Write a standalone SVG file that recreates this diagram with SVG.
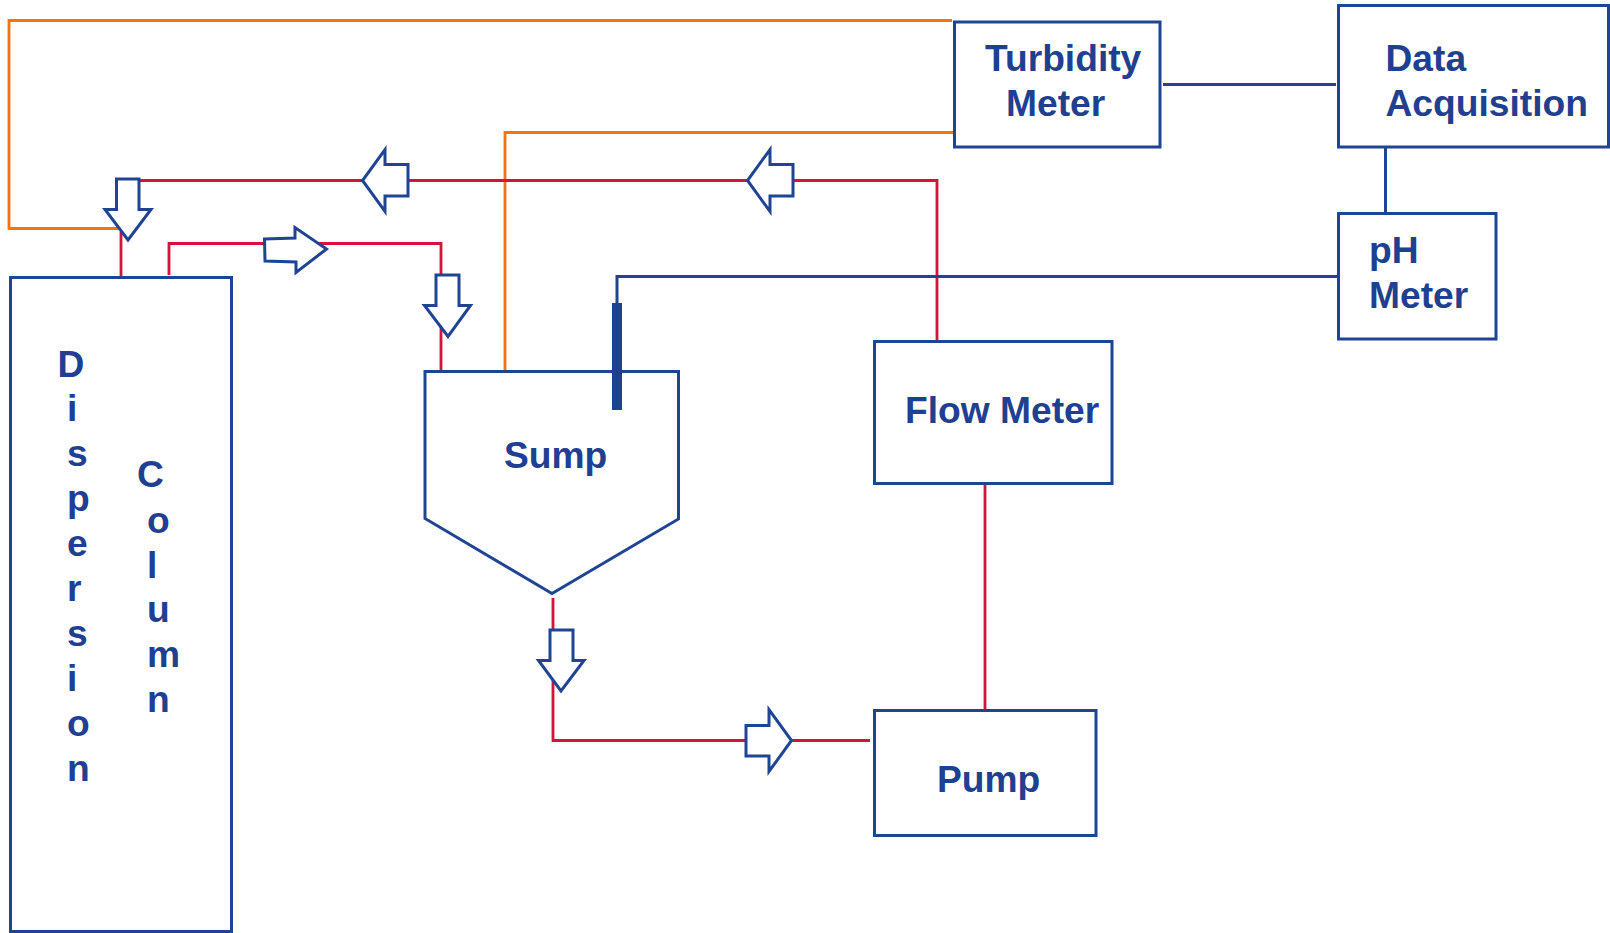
<svg xmlns="http://www.w3.org/2000/svg" width="1610" height="933" viewBox="0 0 1610 933">
<style>
.n{fill:#fff;stroke:#1f4494;stroke-width:3}
.t{font-family:"Liberation Sans",Arial,sans-serif;font-weight:700;font-size:37.200px;fill:#1f4090}
.c{fill:none;stroke-width:2.800;stroke-linejoin:miter}
.r{stroke:#d9103a}
.o{stroke:#f5740f}
.b{stroke:#1f4494;stroke-width:3}
.a{fill:#fff;stroke:#1f4494;stroke-width:3}
</style>
<rect width="1610" height="933" fill="#fff"/>
<g id="connectors">
<path class="c o" d="M952 20.500H9V228.500H118"/>
<path class="c o" d="M954 132.500H505V373"/>
<path class="c r" d="M139 180.500H937V341"/>
<path class="c r" d="M121 232V277"/>
<path class="c r" d="M169 275V243.500H441V370"/>
<path class="c r" d="M553 598V740.500H870"/>
<path class="c r" d="M985 483V710"/>
<path class="c b" d="M1163 84.500H1336"/>
<path class="c b" d="M1385.500 147V213"/>
<path class="c b" d="M1338 276.500H617V303"/>
</g>
<g id="arrows">
<polygon class="a" points="116.500,179 139,179 139,209.500 151,209.500 128,240 105,209.500 116.500,209.500"/>
<polygon class="a" points="408,164.500 385,164.500 385,149.500 362.500,180.500 385,211.500 385,196 408,196"/>
<polygon class="a" points="793,164.500 770,164.500 770,149.500 747.500,180.500 770,211.500 770,196 793,196"/>
<polygon class="a" points="264.500,239 295,238 295,227.500 326.500,249 296,272.500 296,262 265,261"/>
<polygon class="a" points="436,275 459,275 459,305.500 470.500,305.500 448,336.500 424.500,305.500 436,305.500"/>
<polygon class="a" points="550,630 573,630 573,660.500 584,660.500 561,691 538.500,660.500 550,660.500"/>
<polygon class="a" points="746,725.500 769,725.500 769,709.500 791.500,740.500 769,771.500 769,756 746,756"/>
</g>
<g id="dispersion-column">
<rect class="n" x="10.500" y="277.500" width="221" height="654"/>
<text class="t" x="57.500" y="377">D</text>
<text class="t"><tspan x="67" y="421">i</tspan><tspan x="67" y="466">s</tspan><tspan x="67" y="511">p</tspan><tspan x="67" y="556">e</tspan><tspan x="67" y="601">r</tspan><tspan x="67" y="646">s</tspan><tspan x="67" y="691">i</tspan><tspan x="67" y="736">o</tspan><tspan x="67" y="781">n</tspan></text>
<text class="t" x="137" y="487">C</text>
<text class="t"><tspan x="147" y="533">o</tspan><tspan x="147" y="578">l</tspan><tspan x="147" y="622">u</tspan><tspan x="147" y="667">m</tspan><tspan x="147" y="712">n</tspan></text>
</g>
<g id="sump">
<polygon class="n" points="425,371.500 678.500,371.500 678.500,519 552,593.500 425,518.500"/>
<rect x="612" y="303" width="10" height="107" fill="#1f4090"/>
<text class="t" x="504" y="468">Sump</text>
</g>
<g id="turbidity-meter">
<rect class="n" x="954.500" y="22" width="205.500" height="125"/>
<text class="t" x="985" y="71">Turbidity</text>
<text class="t" x="1006" y="116">Meter</text>
</g>
<g id="data-acquisition">
<rect class="n" x="1338.500" y="5.500" width="270" height="141.500"/>
<text class="t" x="1385.500" y="71">Data</text>
<text class="t" x="1385.500" y="116">Acquisition</text>
</g>
<g id="ph-meter">
<rect class="n" x="1338.500" y="213.500" width="157.500" height="125.500"/>
<text class="t" x="1369" y="263">pH</text>
<text class="t" x="1369" y="308">Meter</text>
</g>
<g id="flow-meter">
<rect class="n" x="874.500" y="341.500" width="237.500" height="142"/>
<text class="t" x="905" y="423">Flow Meter</text>
</g>
<g id="pump">
<rect class="n" x="874.500" y="710.500" width="221.500" height="125"/>
<text class="t" x="937" y="792">Pump</text>
</g>
</svg>
